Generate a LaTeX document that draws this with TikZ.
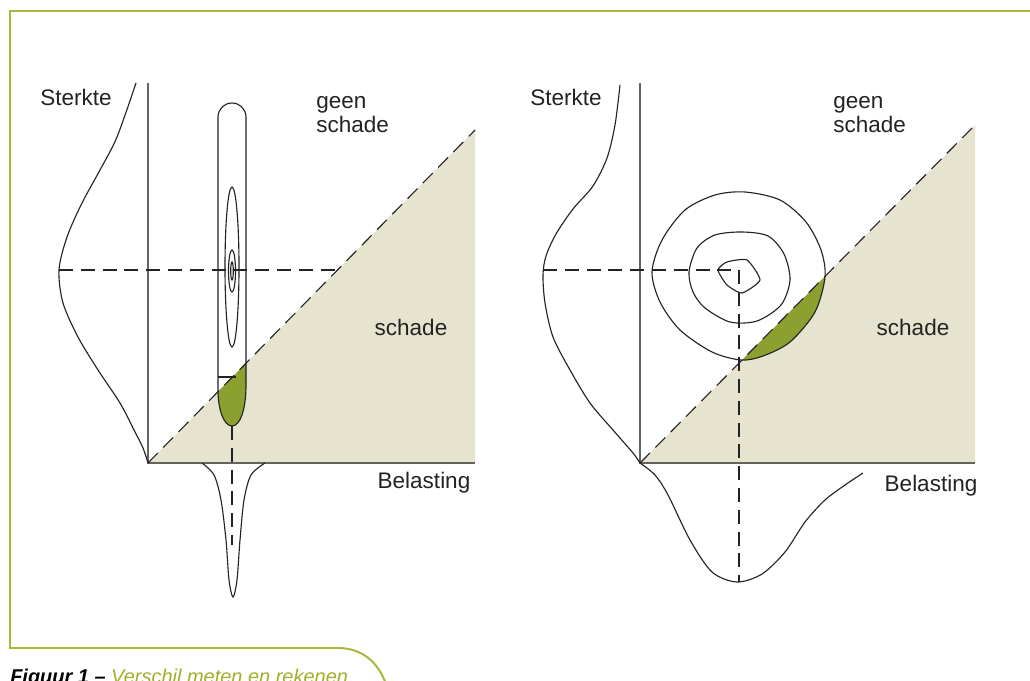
\documentclass[tikz,border=0pt]{standalone}
\usepackage{fontspec}
\setmainfont{Liberation Sans}
\usetikzlibrary{positioning}
\definecolor{framecol}{RGB}{172,182,62}
\definecolor{beige}{RGB}{230,228,206}
\definecolor{damage}{RGB}{140,160,48}
\definecolor{axiscol}{RGB}{100,100,95}
\definecolor{ink}{RGB}{35,35,35}
\definecolor{captioncol}{RGB}{160,176,40}

\begin{document}
\begin{tikzpicture}[x=0.025cm,y=-0.025cm,
    axisline/.style={axiscol, line width=1pt},
    curve/.style={ink, line width=0.8pt},
    dashline/.style={ink, line width=0.8pt, dash pattern=on 10pt off 5.5pt},
    lbl/.style={font=\fontsize{16}{17}\selectfont, text=ink, inner sep=0pt}]
  \useasboundingbox (0,0) rectangle (1030,681);
  \fill[white] (0,0) rectangle (1030,681);

  % frame and caption
  \draw[framecol, line width=1.4pt] (1032,11) -- (10,11) -- (10,648) -- (338,648)
    .. controls (362,648) and (378,662) .. (386,684);
  \node[anchor=base west, inner sep=0pt, font=\fontsize{14.2}{16}\selectfont] (caption) at (10,683)
    {\textbf{\textit{Figuur 1 –}} \textit{\color{captioncol}Verschil meten en rekenen}};

  % ---- left: measuring ----
  \fill[beige] (148,463) -- (475,130) -- (475,463) -- cycle;
  \begin{scope}
    \clip (148,463) -- (475,130) -- (475,463) -- cycle;
    \fill[damage] (218,390) -- (218,117) arc[start angle=180, end angle=360, radius=14]
      -- (246,385) .. controls (246,410) and (240,426) .. (232,426)
      .. controls (224,426) and (218,410) .. (218,390);
  \end{scope}
  \draw[curve] (218,390) -- (218,117) arc[start angle=180, end angle=360, radius=14]
    -- (246,385) .. controls (246,410) and (240,426) .. (232,426)
    .. controls (224,426) and (218,410) .. (218,390);
  \draw[curve] (218,377) -- (236,377);
  \draw[curve] (232,267) ellipse[x radius=7, y radius=80];
  \draw[curve] (232,271) ellipse[x radius=3.5, y radius=21];
  \draw[curve] (232,271) ellipse[x radius=1.3, y radius=9];
  \draw[axisline] (148,83) -- (148,463) -- (475,463);
  \draw[dashline] (148,463) -- (475,130);
  \draw[dashline] (59,270) -- (338,270);
  \draw[dashline] (232,426) -- (232,545);
  % strength and load
  \draw[curve] plot[smooth] coordinates {(136,83) (117,137) (100,170) (82,203) (67,237)
    (59,270) (63,303) (78,337) (98,370) (120,403) (134,430) (143,448) (148,463)};
  \draw[curve] plot[smooth] coordinates {(202,463) (214,475) (221,500) (226,540) (229,580)
    (233,597) (237,580) (240,540) (244,500) (251,475) (265,463)};
  \node[lbl] (strengthL) at (76,97) {Sterkte};
  \node[lbl, align=left, anchor=north west] (safeL) at (316,96) {geen\\schade};
  \node[lbl] (damageL) at (411,327) {schade};
  \node[lbl] (loadL) at (424,483) {Belasting};

  % ---- right: calculating ----
  \fill[beige] (640,463) -- (975,125) -- (975,463) -- cycle;
  \begin{scope}
    \clip (640,463) -- (975,125) -- (975,463) -- cycle;
    \fill[damage] plot[smooth cycle] coordinates {(652,272) (662,240) (685,210) (715,195)
      (745,192) (780,200) (806,222) (821,250) (825,277) (815,312) (790,342) (763,356)
      (741,360) (712,352) (680,330) (660,302)};
  \end{scope}
  \draw[curve] plot[smooth cycle] coordinates {(652,272) (662,240) (685,210) (715,195)
    (745,192) (780,200) (806,222) (821,250) (825,277) (815,312) (790,342) (763,356)
    (741,360) (712,352) (680,330) (660,302)};
  \draw[curve] plot[smooth cycle] coordinates {(689,272) (697,248) (715,235) (742,232)
    (768,236) (784,254) (790,280) (781,305) (757,321) (730,322) (705,308) (693,292)};
  \draw[curve] plot[smooth cycle, tension=0.35] coordinates {(718,270) (727,262) (747,260)
    (760,280) (742,293) (727,285)};
  \draw[axisline] (640,83) -- (640,463) -- (975,463);
  \draw[dashline] (640,463) -- (975,125);
  \draw[dashline] (543,270) -- (739,270);
  \draw[dashline] (739,270) -- (739,582);
  % strength and load
  \draw[curve] plot[smooth] coordinates {(620,85) (615,125) (607,158) (593,186) (573,209)
    (556,234) (546,256) (543,275) (545,303) (553,337) (570,370) (590,403) (613,430)
    (633,453) (640,463)};
  \draw[curve] plot[smooth] coordinates {(640,463) (655,475) (668,495) (690,540) (712,572)
    (737,582) (762,574) (785,552) (805,522) (825,500) (845,485) (863,473)};
  \node[lbl] (strengthR) at (566,97) {Sterkte};
  \node[lbl, align=left, anchor=north west] (safeR) at (833,96) {geen\\schade};
  \node[lbl] (damageR) at (913,327) {schade};
  \node[lbl] (loadR) at (931,486) {Belasting};
\end{tikzpicture}
\end{document}
